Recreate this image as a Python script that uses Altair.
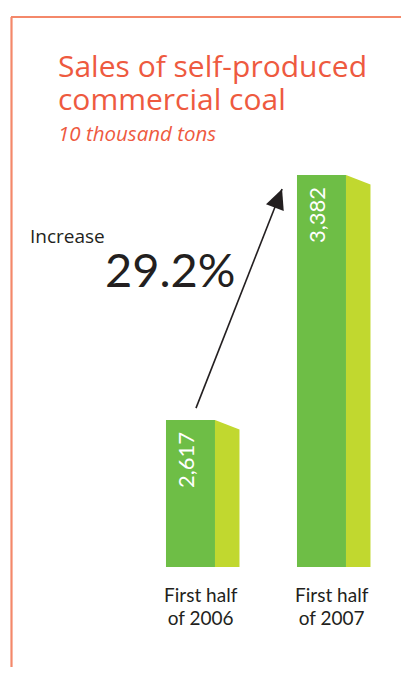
import altair as alt
import pandas as pd

# ---- data ----
categories = ["First half\nof 2006", "First half\nof 2007"]
values = [2617, 3382]
value_labels = ["2,617", "3,382"]
axis_base = 2158
title_lines = ["Sales of self-produced", "commercial coal"]
subtitle = "10 thousand tons"
increase_label = "Increase"
increase_value = "29.2%"
arrow_x = [0.229, 0.886]
arrow_y = [2654, 3338]

# ---- geometry of the pseudo-3D bars (in scale units) ----
FRONT_W = 0.374
SIDE_W = 0.187
SLOPE = 30

W, H = 393, 659
xs = alt.Scale(domain=[-1.206, 1.794], nice=False, zero=False)
ys = alt.Scale(domain=[1846, 3903], nice=False, zero=False)

idx = list(range(len(values)))
bars = pd.DataFrame({
    "i": idx,
    "i2": [i + FRONT_W for i in idx],
    "mid": [i + FRONT_W / 2 for i in idx],
    "labx": [i + 0.265 for i in idx],
    "v": values,
    "base": [axis_base] * len(values),
    "label": value_labels,
    "cat": categories,
})

side_rows = []
for i, v in zip(idx, values):
    side_rows.append({"c": i, "x": i + FRONT_W, "top": v, "base": axis_base})
    side_rows.append({"c": i, "x": i + FRONT_W + SIDE_W, "top": v - SLOPE, "base": axis_base})
side = pd.DataFrame(side_rows)

arrow = pd.DataFrame({"x": arrow_x, "y": arrow_y, "o": [0, 1]})
tip = pd.DataFrame({"x": [arrow_x[1]], "y": [arrow_y[1]]})

X = lambda f: alt.X(f, type="quantitative", scale=xs, axis=None)
Y = lambda f: alt.Y(f, type="quantitative", scale=ys, axis=None)

front = alt.Chart(bars).mark_rect(color="#6EBE46").encode(
    x=X("i"), x2="i2", y=Y("v"), y2="base"
)
side_faces = alt.Chart(side).mark_area(color="#C1D82F", opacity=1).encode(
    x=X("x"), y=Y("top"), y2="base", detail="c:N"
)
val_text = alt.Chart(bars).mark_text(
    angle=270, align="right", baseline="middle", dx=-12, dy=-3,
    color="white", fontSize=22, font="Lato"
).encode(x=X("mid"), y=Y("v"), text="label:N")
cat_text = alt.Chart(bars).mark_text(
    align="center", baseline="alphabetic", dy=35, lineBreak="\n", lineHeight=23,
    color="#231F20", fontSize=19, font="Lato"
).encode(x=X("labx"), y=Y("base"), text="cat:N")

arrow_line = alt.Chart(arrow).mark_line(color="#231F20", strokeWidth=1.6).encode(
    x=X("x"), y=Y("y"), order="o:Q"
)
arrow_head = alt.Chart(tip).mark_point(
    shape="M0,0L-0.95,2L0.95,2Z", size=400, angle=21, filled=True,
    color="#231F20", opacity=1, strokeWidth=0
).encode(x=X("x"), y=Y("y"))

def txt(s, x, y, size, color, font, style="normal", weight="normal"):
    return alt.Chart(pd.DataFrame({"t": [s]})).mark_text(
        align="left", baseline="alphabetic", fontSize=size, color=color,
        font=font, fontStyle=style, fontWeight=weight
    ).encode(x=alt.value(x), y=alt.value(y), text="t:N")

TITLE_C = "#EE5A3F"
texts = [
    txt(title_lines[0], 50, 69, 30, TITLE_C, "Open Sans"),
    txt(title_lines[1], 50, 102, 30, TITLE_C, "Open Sans"),
    txt(subtitle, 50, 133, 20.5, TITLE_C, "Open Sans", style="italic"),
    txt(increase_label, 22, 235, 19, "#231F20", "Open Sans"),
    txt(increase_value, 97, 279, 47, "#231F20", "Lato"),
]

BORDER = "#F4886A"
border_top = alt.Chart(pd.DataFrame({"a": [0]})).mark_rule(color=BORDER, strokeWidth=2).encode(
    x=alt.value(3), x2=alt.value(W), y=alt.value(9)
)
border_left = alt.Chart(pd.DataFrame({"a": [0]})).mark_rule(color=BORDER, strokeWidth=2.2).encode(
    x=alt.value(3.5), y=alt.value(9), y2=alt.value(H)
)

chart = alt.layer(
    border_top, border_left, side_faces, front, val_text, cat_text,
    arrow_line, arrow_head, *texts
).properties(
    width=W, height=H, padding=0, autosize=alt.AutoSizeParams(type="none")
).configure_view(stroke=None)

chart.save("out.html", embed_options={"renderer": "svg", "actions": False})
